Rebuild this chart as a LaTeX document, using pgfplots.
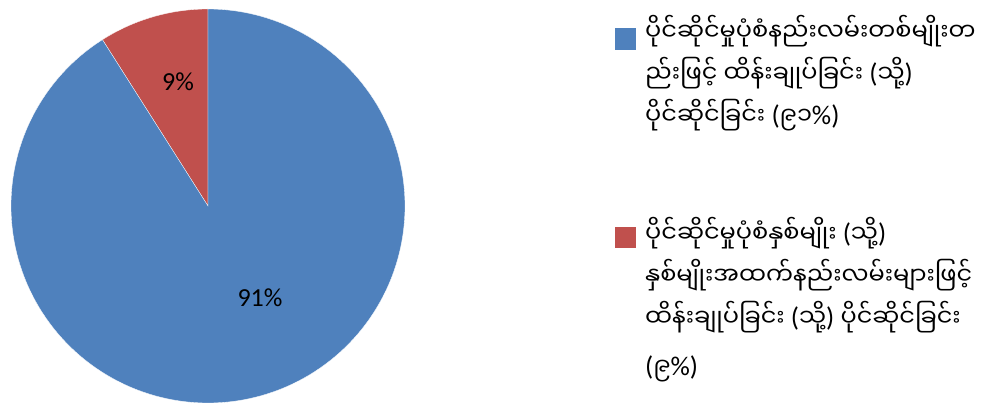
\documentclass[border=0pt]{standalone}
\usepackage{pgfplots}
\pgfplotsset{compat=1.18}
\usepackage{fontspec}
\setmainfont{Carlito}
\newfontfamily\mya[Script=Myanmar]{Noto Sans Myanmar UI}
\newfontfamily\lat{Carlito}
\newcommand\LL[1]{{\lat\fontsize{27bp}{30bp}\selectfont #1}}
\definecolor{cblue}{HTML}{4F81BD}
\definecolor{cred}{HTML}{C0504D}
\def\vA{91}
\def\vB{9}
\begin{document}
\begin{tikzpicture}
\path[use as bounding box] (-208bp,-199bp) rectangle (778bp,206bp);
\begin{axis}[x=197bp,y=197bp,xmin=-1,xmax=1,ymin=-1,ymax=1,hide axis,
  anchor=center,at={(0,0)},clip=false]
\pgfmathsetmacro{\angB}{90+\vB*3.6}
\addplot[draw=white,line width=0.3pt,fill=cred,domain=90:\angB,samples=40]
  ({cos(x)},{sin(x)}) -- (axis cs:0,0) -- cycle;
\addplot[draw=white,line width=0.3pt,fill=cblue,domain=\angB:450,samples=300]
  ({cos(x)},{sin(x)}) -- (axis cs:0,0) -- cycle;
\node[font=\fontsize{26bp}{30bp}\selectfont] at (axis cs:-0.152,0.629) {\vB\%};
\node[font=\fontsize{26bp}{30bp}\selectfont] at (axis cs:0.264,-0.467) {\vA\%};
\end{axis}
\fill[cblue] (407bp,156bp) rectangle (428bp,178bp);
\fill[cred] (407bp,-42bp) rectangle (428bp,-21bp);
\begin{scope}[every node/.style={anchor=base west,inner sep=0pt,font=\mya\fontsize{24bp}{30bp}\selectfont}]
\node at (437bp,165bp) {ပိုင်ဆိုင်မှုပုံစံနည်းလမ်းတစ်မျိုးတ};
\node at (437bp,123bp) {ည်းဖြင့် ထိန်းချုပ်ခြင်း \LL{(}သို့\LL{)}};
\node at (437bp,81bp) {ပိုင်ဆိုင်ခြင်း \LL{(}၉၁\LL{\%)}};
\node at (437bp,-36bp) {ပိုင်ဆိုင်မှုပုံစံနှစ်မျိုး \LL{(}သို့\LL{)}};
\node at (437bp,-78bp) {နှစ်မျိုးအထက်နည်းလမ်းများဖြင့်};
\node at (437bp,-120bp) {ထိန်းချုပ်ခြင်း \LL{(}သို့\LL{)} ပိုင်ဆိုင်ခြင်း};
\node at (437bp,-169bp) {\LL{(}၉\LL{\%)}};
\end{scope}
\end{tikzpicture}
\end{document}
